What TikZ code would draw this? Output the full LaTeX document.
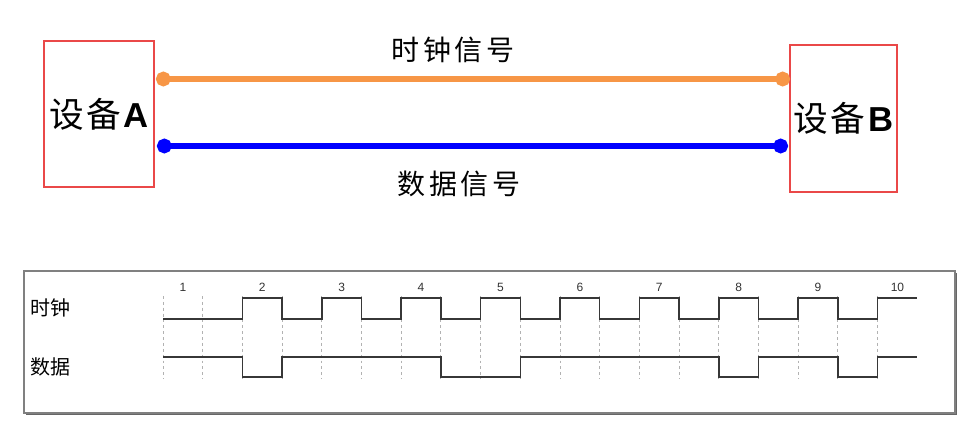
\documentclass[tikz,border=0pt]{standalone}
\usepackage{fontspec}
\setmainfont{Liberation Sans}
\newfontfamily\cjk{Noto Sans CJK SC}
\newfontfamily\cjkwide[LetterSpace=14]{Noto Sans CJK SC}
\newfontfamily\cjkdev[LetterSpace=8]{Noto Sans CJK SC}
\usetikzlibrary{arrows.meta,calc}
\definecolor{boxred}{RGB}{234,72,72}
\definecolor{clkorange}{RGB}{247,150,70}
\definecolor{wavegray}{RGB}{55,55,55}
\tikzset{
  devbox/.style={draw=boxred,line width=2.2pt,inner sep=0pt,font=\fontsize{26}{28}\selectfont},
  sigline/.style={line width=4.2pt,{Circle[length=11pt]}-{Circle[length=11pt]}},
  siglabel/.style={font=\cjkwide\fontsize{21}{24}\selectfont,text=black},
  wave/.style={draw=wavegray,line width=1.1pt},
  tick/.style={draw=black!30,line width=0.7pt,dash pattern=on 2.2pt off 2.2pt},
  num/.style={font=\fontsize{9}{10}\selectfont,text=black!80},
  rowlabel/.style={font=\cjk\fontsize{15}{17}\selectfont,text=black}
}
\begin{document}
\begin{tikzpicture}[x=0.75pt,y=-0.75pt]
  \useasboundingbox (0,0) rectangle (962,432);
  % devices and the two lines
  \node[devbox,minimum width=82.5pt,minimum height=109.5pt] (devA) at (99,114)
    {{\cjkdev 设备}\textbf{A}};
  \node[devbox,minimum width=80.25pt,minimum height=110.25pt] (devB) at (843.5,118.5)
    {{\cjkdev 设备}\textbf{B}};
  \coordinate (clkA) at (156,79);
  \coordinate (clkB) at (790,79);
  \coordinate (datA) at (157,146);
  \coordinate (datB) at (788,146);
  \draw[sigline,clkorange] (clkA) -- (clkB);
  \draw[sigline,blue] (datA) -- (datB);
  \node[siglabel] (clklabel) at (453,50) {时钟信号};
  \node[siglabel] (datlabel) at (459,184) {数据信号};
  % timing chart
  \fill[black!60] (26,273) rectangle (957,415);
  \filldraw[fill=white,draw=black!50,line width=0.8pt] (24,271) rectangle (955,413);
  \node[rowlabel] (clkrow) at (50,308) {时钟};
  \node[rowlabel] (datrow) at (50,367) {数据};
  \begin{scope}[shift={(163,0)},x=29.775pt]
    \foreach \i in {0,...,18}
      \draw[tick] (\i,296) -- (\i,379);
    \foreach \k in {1,...,10}
      \node[num] (n\k) at ({2*\k-1.5},287) {\k};
    \draw[wave] (0,319) -- (2,319)
      \foreach \i in {2,4,...,16} { -- (\i,298) -- (\i+1,298) -- (\i+1,319) -- (\i+2,319) }
      -- (18,298) -- (19,298);
    \draw[wave] (0,357) -- (2,357) -- (2,377) -- (3,377) -- (3,357)
      -- (7,357) -- (7,377) -- (9,377) -- (9,357) -- (14,357) -- (14,377)
      -- (15,377) -- (15,357) -- (17,357) -- (17,377) -- (18,377)
      -- (18,357) -- (19,357);
  \end{scope}
\end{tikzpicture}
\end{document}
